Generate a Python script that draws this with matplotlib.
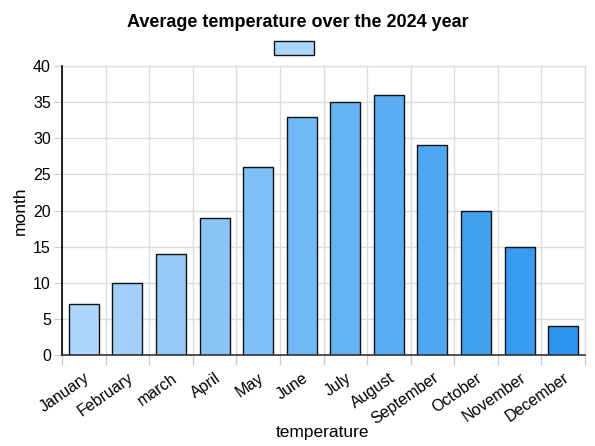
import numpy as np
import matplotlib.pyplot as plt
from matplotlib.colors import LinearSegmentedColormap
from matplotlib.patches import Rectangle

plt.rcParams['font.family'] = ['Liberation Sans', 'DejaVu Sans']

months = ['January', 'February', 'march', 'April', 'May', 'June', 'July',
          'August', 'September', 'October', 'November', 'December']
temps = [7, 10, 14, 19, 26, 33, 35, 36, 29, 20, 15, 4]
y_ticks = [0, 5, 10, 15, 20, 25, 30, 35, 40]


def main():
    fig = plt.figure(figsize=(5.95, 4.46), dpi=100)
    ax = fig.add_axes([0.1042, 0.204, 0.879, 0.648])

    cmap = LinearSegmentedColormap.from_list('blues', ['#acd6f9', '#2b96f0'])
    n = len(months)
    colors = [cmap(i / (n - 1)) for i in range(n)]
    x = np.arange(n)
    ax.bar(x, temps, width=0.69, color=colors, edgecolor='#111111',
           linewidth=1.0, zorder=3)

    ax.set_xlim(-0.5, n - 0.5)
    ax.set_ylim(0, 40)
    ax.set_yticks(y_ticks)
    ax.set_xticks(x)
    ax.set_xticklabels(months, rotation=35, ha='right', rotation_mode='anchor',
                       fontsize=11.5)
    ax.set_xticks(np.arange(-0.5, n, 1.0), minor=True)
    ax.tick_params(axis='x', which='major', length=0, pad=11)
    ax.tick_params(axis='x', which='minor', length=7, color='#cccccc', width=1)
    ax.tick_params(axis='y', length=6, color='#cccccc', labelsize=11.5, pad=2)

    ax.grid(True, axis='y', color='#dddddd', linewidth=1, zorder=0)
    ax.grid(True, axis='x', which='minor', color='#dddddd', linewidth=1, zorder=0)
    ax.set_axisbelow(True)

    for side in ['top', 'right']:
        ax.spines[side].set_color('#dddddd')
        ax.spines[side].set_linewidth(1)
        ax.spines[side].set_zorder(0)
    ax.spines['left'].set_color('#000000')
    ax.spines['left'].set_linewidth(1.2)
    ax.spines['bottom'].set_color('#333333')
    ax.spines['bottom'].set_linewidth(1.2)
    ax.spines['left'].set_zorder(4)
    ax.spines['bottom'].set_zorder(4)

    fig.text(323 / 595, 1 - 432 / 446, 'temperature', fontsize=12.5,
             ha='center', va='center')
    ax.set_ylabel('month', fontsize=12.5, labelpad=4)

    fig.suptitle('Average temperature over the 2024 year', fontsize=13,
                 fontweight='bold', y=0.968)

    # legend swatch with no label text
    fig.patches.append(Rectangle((274 / 595, 1 - 55 / 446), 40 / 595, 14 / 446,
                                 transform=fig.transFigure, facecolor=colors[0],
                                 edgecolor='#111111', linewidth=1.0))

    plt.savefig('out.png', dpi=100)


if __name__ == '__main__':
    main()
